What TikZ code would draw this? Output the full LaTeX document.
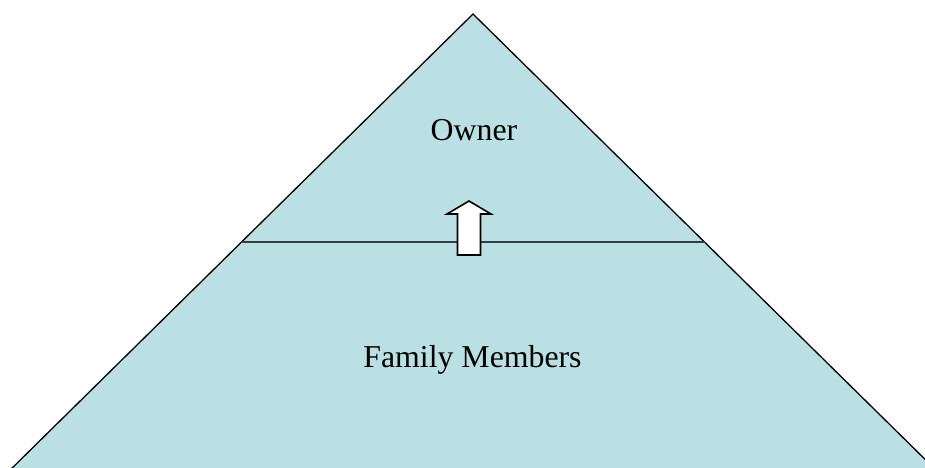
\documentclass[tikz,border=0pt]{standalone}
\usepackage{fontspec}
\setmainfont{Liberation Serif}
\usepackage{xcolor}
\usepackage{tikz}
\usetikzlibrary{calc}
\definecolor{pyramidfill}{RGB}{187,224,227}
\definecolor{dividergray}{RGB}{55,60,62}
\tikzset{
level/.style={
    font=\fontsize{31.8}{38}\selectfont, text=black, inner sep=0pt
  }
}

\begin{document}
\begin{tikzpicture}[x=1pt, y=-1pt,
 edge/.style={draw=black, line width=1.3pt},
 divider/.style={draw=dividergray, line width=2.7pt},
 uparrow/.style={draw=black, fill=white, line width=1.6pt, line join=miter}
  ]
\useasboundingbox (0,0) rectangle (925,467);
\clip (0,0) rectangle (925,467);

\coordinate (top) at (473,14);
\coordinate (bl) at (13,467);
\coordinate (br) at (933,467);
\coordinate (cl) at ($(top)!0.5033!(bl)$);
\coordinate (cr) at ($(top)!0.5033!(br)$);

% the pyramid, its base lies below the page
\fill[pyramidfill] (top) -- ($(bl)+(-10,10)$) -- ($(br)+(10,10)$) -- cycle;
\draw[edge] ($(bl)+(-10,10)$) -- (top) -- ($(br)+(10,10)$);
\draw[divider] (cl) -- (cr);

\node[level] (owner) at (474,130) {Owner};
\node[level] (family) at (472.5,360) {Family Members};

% block arrow from the lower level up to the owner
\draw[uparrow] (457.5,255) -- (457.5,214) -- (447,214) -- (469,201)
  -- (491,214) -- (480.5,214) -- (480.5,255) -- cycle;
\end{tikzpicture}
\end{document}
